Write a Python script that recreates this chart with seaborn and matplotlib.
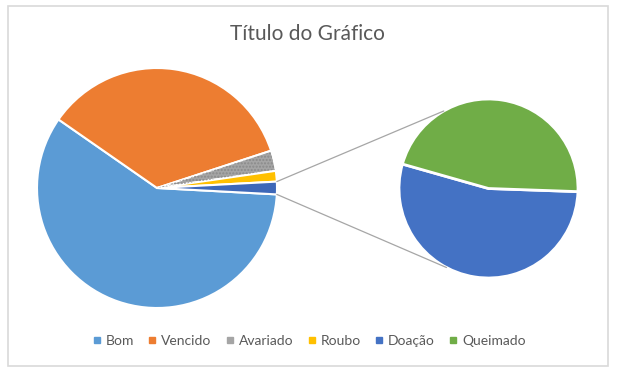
import numpy as np
import seaborn as sns
import matplotlib.pyplot as plt
from matplotlib.patches import Wedge, Rectangle
from matplotlib.lines import Line2D

# dados do gráfico (pizza de pizza)
categorias = ["Bom", "Vencido", "Avariado", "Roubo", "Doação", "Queimado"]
valores = [450, 270, 21, 11, 7, 6]
cores = ["#5B9BD5", "#ED7D31", "#A5A5A5", "#FFC000", "#4472C4", "#70AD47"]
n_principal = 4  # as duas últimas categorias vão para a pizza secundária
cor_outros = "#3E68B8"

sns.set_theme(style="white")
plt.rcParams['font.family'] = ['Lato', 'DejaVu Sans']

fig = plt.figure(figsize=(6.19, 3.74), dpi=100)
ax = fig.add_axes([0, 0, 1, 1])
ax.set_xlim(0, 619)
ax.set_ylim(0, 374)
ax.set_aspect('equal')
ax.axis('off')

# borda da área do gráfico
ax.add_patch(Rectangle((8, 8), 600, 360, fill=False, edgecolor="#D9D9D9", lw=1.2))

outros = sum(valores[n_principal:])
vals_main = valores[:n_principal] + [outros]
cores_main = cores[:n_principal] + [cor_outros]
total = sum(vals_main)
meio_outros = 360 * outros / total / 2

c1, r1 = (157, 186), 120
c2, r2 = (488.5, 185.5), 89.5

w1, _ = ax.pie(vals_main, colors=cores_main, startangle=-meio_outros, counterclock=False,
               center=c1, radius=r1, frame=True,
               wedgeprops=dict(edgecolor="white", linewidth=1.5))

# textura pontilhada em "Avariado"
wa = w1[2]
ax.add_patch(Wedge(c1, r1 - 1, wa.theta1 + 0.6, wa.theta2 - 0.6, facecolor="none",
                   edgecolor="#8A8A8A", hatch=".....", linewidth=0))

w2, _ = ax.pie(valores[n_principal:], colors=cores[n_principal:], startangle=-2,
               counterclock=False, center=c2, radius=r2, frame=True,
               wedgeprops=dict(edgecolor="white", linewidth=2))
ax.set_xlim(0, 619)
ax.set_ylim(0, 374)
ax.axis('off')

# linhas de ligação
for a1, a2 in [(meio_outros, 120), (-meio_outros, 242)]:
    p1 = (c1[0] + r1 * np.cos(np.radians(a1)), c1[1] + r1 * np.sin(np.radians(a1)))
    p2 = (c2[0] + r2 * np.cos(np.radians(a2)), c2[1] + r2 * np.sin(np.radians(a2)))
    ax.plot([p1[0], p2[0]], [p1[1], p2[1]], color="#A6A6A6", lw=0.9)

ax.text(307.5, 340, "Título do Gráfico", ha="center", va="center",
        fontsize=15, color="#595959")

handles = [Line2D([], [], marker="s", linestyle="none", markersize=4.5,
                  markerfacecolor=c, markeredgecolor=c) for c in cores]
ax.legend(handles, categorias, loc="center", bbox_to_anchor=(0.5, 33 / 374),
          ncol=6, frameon=False, fontsize=10, handlelength=0.5,
          handletextpad=0.4, columnspacing=1.05, labelcolor="#595959")

fig.savefig("out.png", dpi=100)
